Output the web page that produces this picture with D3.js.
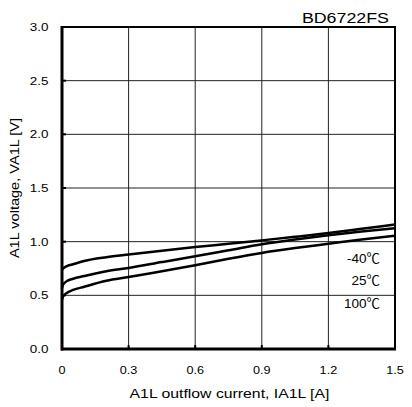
<!DOCTYPE html>
<html>
<head>
<meta charset="utf-8">
<script src="https://cdn.jsdelivr.net/npm/d3@7"></script>
<style>
  body { margin: 0; background: #fff; }
  text { font-family: "Liberation Sans", Arial, sans-serif; fill: #000; }
  text.temp { font-family: "Liberation Sans", "Noto Sans CJK JP", sans-serif; }
</style>
</head>
<body>
<div id="chart"></div>
<script>
// data
var current = [0, 0.005, 0.02, 0.05, 0.1, 0.2, 0.3, 0.45, 0.6, 0.75, 0.9, 1.05, 1.2, 1.35, 1.5];
var vMinus40 = [0.74, 0.75, 0.77, 0.79, 0.82, 0.855, 0.88, 0.915, 0.95, 0.98, 1.012, 1.045, 1.08, 1.12, 1.16];
var v25 = [0.57, 0.60, 0.63, 0.655, 0.68, 0.725, 0.755, 0.81, 0.865, 0.92, 0.975, 1.02, 1.06, 1.095, 1.125];
var v100 = [0.46, 0.49, 0.52, 0.55, 0.58, 0.635, 0.67, 0.725, 0.78, 0.84, 0.895, 0.94, 0.98, 1.02, 1.055];
var seriesLabels = ["-40℃", "25℃", "100℃"];
var xTicks = [0, 0.3, 0.6, 0.9, 1.2, 1.5];
var yTicks = [0, 0.5, 1.0, 1.5, 2.0, 2.5, 3.0];

function init() {
    var w = 412, h = 407;
    var left = 62, right = 395, top = 27, bottom = 349;

    var svg = d3.select("#chart").append("svg")
        .attr("width", w)
        .attr("height", h);

    var x = d3.scaleLinear().domain([0, 1.5]).range([left, right]);
    var y = d3.scaleLinear().domain([0, 3]).range([bottom, top]);

    // text is a bit wider than plain Arial in the original, so stretch it
    function label(tx, ty, txt, size, anchor, sx, rot) {
        return svg.append("text")
            .attr("transform", "translate(" + tx + "," + ty + ")" + (rot ? " rotate(" + rot + ")" : "") + " scale(" + sx + ",1)")
            .attr("text-anchor", anchor)
            .attr("font-size", size)
            .text(txt);
    }

    // grid
    svg.append("g").selectAll("line").data(xTicks.slice(1, -1)).enter().append("line")
        .attr("x1", d => x(d)).attr("x2", d => x(d))
        .attr("y1", top).attr("y2", bottom)
        .attr("stroke", "#222").attr("stroke-width", 1);
    svg.append("g").selectAll("line").data(yTicks.slice(1, -1)).enter().append("line")
        .attr("x1", left).attr("x2", right)
        .attr("y1", d => y(d)).attr("y2", d => y(d))
        .attr("stroke", "#222").attr("stroke-width", 1);

    // small inner ticks
    svg.append("g").selectAll("line").data(xTicks.slice(1, -1)).enter().append("line")
        .attr("x1", d => x(d)).attr("x2", d => x(d))
        .attr("y1", bottom).attr("y2", bottom - 4)
        .attr("stroke", "#000").attr("stroke-width", 2);
    svg.append("g").selectAll("line").data(yTicks.slice(1, -1)).enter().append("line")
        .attr("x1", left).attr("x2", left + 4)
        .attr("y1", d => y(d)).attr("y2", d => y(d))
        .attr("stroke", "#000").attr("stroke-width", 2);

    // frame
    svg.append("rect")
        .attr("x", left).attr("y", top)
        .attr("width", right - left).attr("height", bottom - top)
        .attr("fill", "none").attr("stroke", "#000").attr("stroke-width", 2);
    svg.append("line").attr("x1", left).attr("x2", left).attr("y1", top - 1).attr("y2", bottom + 1.5)
        .attr("stroke", "#000").attr("stroke-width", 3);
    svg.append("line").attr("x1", left - 1).attr("x2", right + 1).attr("y1", bottom).attr("y2", bottom)
        .attr("stroke", "#000").attr("stroke-width", 3);

    // tick labels
    xTicks.forEach(function (d) {
        label(x(d), 374, d === 0 ? "0" : d.toFixed(1), 11.5, "middle", 1.1);
    });
    yTicks.forEach(function (d) {
        label(48.5, y(d) + 4, d.toFixed(1), 11.5, "end", 1.17);
    });

    // axis titles
    label(229.5, 398, "A1L outflow current, IA1L [A]", 13.5, "middle", 1.17);
    label(19, 188, "A1L voltage, VA1L [V]", 13, "middle", 1.12, -90);
    label(389, 23, "BD6722FS", 15.5, "end", 1.15);

    // curves
    var line = d3.line()
        .x((d, i) => x(current[i]))
        .y(d => y(d))
        .curve(d3.curveMonotoneX);
    [vMinus40, v25, v100].forEach(function (s) {
        svg.append("path").datum(s)
            .attr("d", line)
            .attr("fill", "none")
            .attr("stroke", "#000")
            .attr("stroke-width", 2.5);
    });

    // legend labels
    var labelY = [263, 285, 308];
    seriesLabels.forEach(function (d, i) {
        label(380, labelY[i], d, 13.5, "end", 1.0).attr("class", "temp");
    });
}
window.onload = init;
</script>
</body>
</html>
